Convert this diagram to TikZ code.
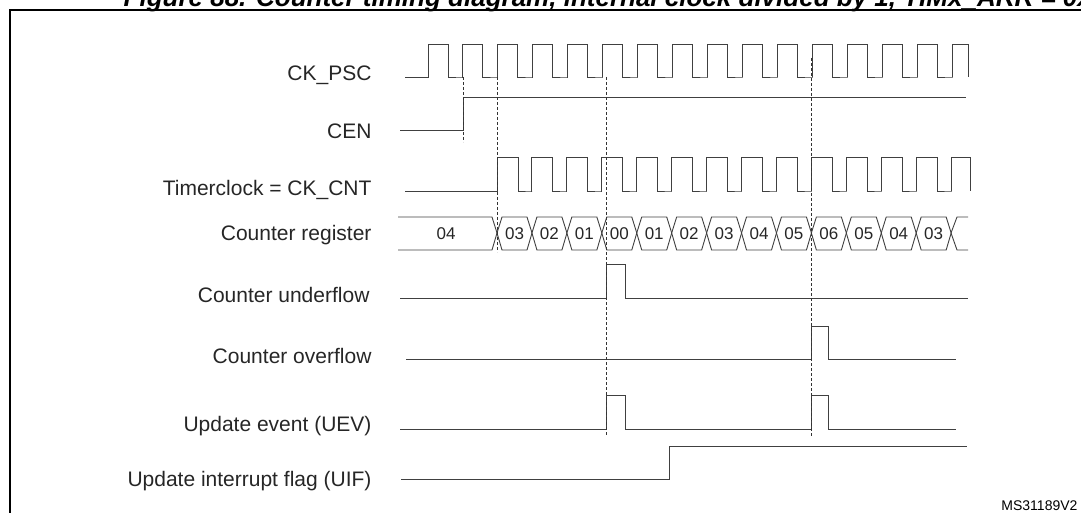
\documentclass[tikz,border=0pt]{standalone}
\usepackage{fontspec}
\setmainfont{Liberation Sans}
\usetikzlibrary{positioning}
\tikzset{
  wave/.style={draw=black!75, line width=0.9pt},
  guide/.style={draw=black!80, line width=0.8pt, dash pattern=on 3pt off 2pt},
  siglabel/.style={anchor=east, font=\fontsize{21}{24}\selectfont, text=black!85},
  buslabel/.style={font=\fontsize{17}{19}\selectfont, text=black!85},
}
\begin{document}
\begin{tikzpicture}[x=1pt,y=-1pt]
        \useasboundingbox (0,0) rectangle (1081,513);
        % Frame and title
        \draw[line width=2pt] (10,513) -- (10,10) -- (1085,10);
        \node[font=\bfseries\itshape\fontsize{26}{30}\selectfont, anchor=base] (title) at (615,7)
            {Figure 88. Counter timing diagram, internal clock divided by 1, TIMx\_ARR = 0x6};

        % Signal names
        \node[siglabel] (lpsc) at (375,75) {CK\_PSC};
        \node[siglabel] (lcen) at (375,131) {CEN};
        \node[siglabel] (lcnt) at (375,190) {Timerclock = CK\_CNT};
        \node[siglabel] (lreg) at (375,235) {Counter register};
        \node[siglabel] (lund) at (373,295) {Counter underflow};
        \node[siglabel] (lovf) at (375,356) {Counter overflow};
        \node[siglabel] (luev) at (375,426) {Update event (UEV)};
        \node[siglabel] (luif) at (375,481) {Update interrupt flag (UIF)};

        % CK_PSC
        \draw[wave] (405,77) -- (428,77)
            \foreach \k in {0,...,14} { -- ({428+34.93*\k},77) -- ({428+34.93*\k},44) -- ({448+34.93*\k},44) -- ({448+34.93*\k},77) -- ({463+34.93*\k},77) }
            -- (952,77) -- (952,44) -- (968,44) -- (968,77);

        % CEN
        \draw[wave] (400,130) -- (463,130) -- (463,97) -- (966,97);

        % CK_CNT
        \draw[wave] (405,191) -- (497,191)
            \foreach \k in {0,...,12} { -- ({497+34.93*\k},191) -- ({497+34.93*\k},157) -- ({518+34.93*\k},157) -- ({518+34.93*\k},191) -- ({532+34.93*\k},191) }
            -- (951,191) -- (951,157) -- (970,157) -- (970,191);

        % Counter register
        \draw[wave] (398,217) -- (492,217) -- (497,233) -- (492,250) -- (398,250);
        \node[buslabel] (v04) at (446,234) {04};
        \foreach \v [count=\i from 0] in {03,02,01,00,01,02,03,04,05,06,05,04,03} {
            \draw[wave] ({497+34.93*\i},233) -- ({502+34.93*\i},217) -- ({527+34.93*\i},217) -- ({532+34.93*\i},233)
                -- ({527+34.93*\i},250) -- ({502+34.93*\i},250) -- cycle;
            \node[buslabel] (v\i) at ({514.5+34.93*\i},234) {\v};
        }
        \draw[wave] (968,217) -- (957,217) -- (951,233) -- (957,250) -- (968,250);

        % Counter underflow
        \draw[wave] (400,298) -- (606,298) -- (606,264) -- (625,264) -- (625,298) -- (968,298);
        % Counter overflow
        \draw[wave] (406,359) -- (811,359) -- (811,326) -- (828,326) -- (828,359) -- (956,359);
        % UEV
        \draw[wave] (400,429) -- (606,429) -- (606,395) -- (625,395) -- (625,429)
            -- (811,429) -- (811,395) -- (828,395) -- (828,429) -- (956,429);
        % UIF
        \draw[wave] (401,479) -- (669,479) -- (669,446) -- (967,446);

        % Guides
        \draw[guide] (463,77) -- (463,142);
        \draw[guide] (497,77) -- (497,252);
        \draw[guide] (606,77) -- (606,435);
        \draw[guide] (811,58) -- (811,437);

        \node[font=\fontsize{14}{16}\selectfont, anchor=base east] (ref) at (1081,510) {MS31189V2};
    \end{tikzpicture}
\end{document}
